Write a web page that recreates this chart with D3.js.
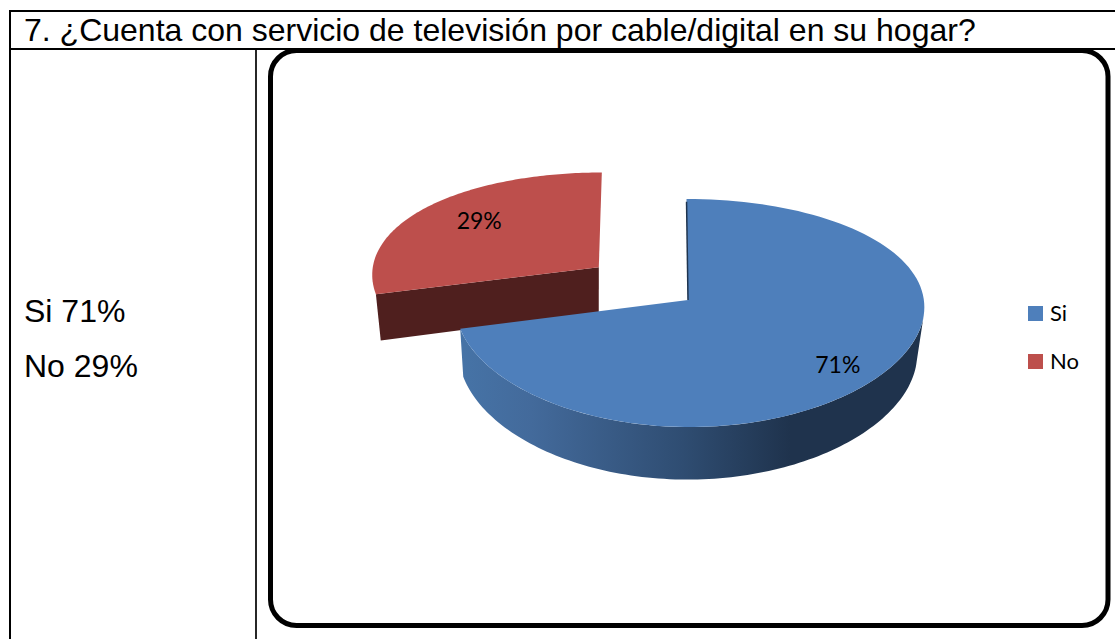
<!DOCTYPE html>
<html>
<head>
<meta charset="utf-8">
<script src="https://d3js.org/d3.v7.min.js"></script>
<style>
  html, body { margin: 0; padding: 0; background: #fff; }
  svg { display: block; }
</style>
</head>
<body>
<script>
const categories = ["Si", "No"];
const values = [71, 29];
const labels = ["71%", "29%"];
const summary = ["Si 71%", "No 29%"];
const title = "7. ¿Cuenta con servicio de televisión por cable/digital en su hogar?";

const width = 1115;
const height = 639;
const sansFont = "'Liberation Sans', Arial, sans-serif";
const chartFont = "Lato, sans-serif";

const svg = d3.select("body").append("svg")
  .attr("width", width)
  .attr("height", height);

const defs = svg.append("defs");
const sideGrad = defs.append("linearGradient")
  .attr("id", "blueSide")
  .attr("gradientUnits", "userSpaceOnUse")
  .attr("x1", 463).attr("x2", 790).attr("y1", 0).attr("y2", 0);
sideGrad.append("stop").attr("offset", 0).attr("stop-color", "#4673a6");
sideGrad.append("stop").attr("offset", 0.21).attr("stop-color", "#436a9b");
sideGrad.append("stop").attr("offset", 0.67).attr("stop-color", "#2f4d72");
sideGrad.append("stop").attr("offset", 1).attr("stop-color", "#1f334d");

// table lines, the right side of the table is cut off
const lines = svg.append("g").attr("stroke", "#000").attr("stroke-width", 2);
lines.append("line")
  .attr("x1", 9).attr("x2", width)
  .attr("y1", 11).attr("y2", 11);
lines.append("line")
  .attr("x1", 10).attr("x2", 10)
  .attr("y1", 10).attr("y2", height);
lines.append("line")
  .attr("x1", 10).attr("x2", width)
  .attr("y1", 49).attr("y2", 49);
lines.append("line")
  .attr("x1", 256).attr("x2", 256)
  .attr("y1", 49).attr("y2", height)
  .attr("stroke-width", 1.7);

svg.append("text")
  .attr("x", 24).attr("y", 41)
  .attr("font-family", sansFont)
  .attr("font-size", 32)
  .attr("fill", "#000")
  .text(title);

svg.selectAll("text.summary")
  .data(summary)
  .enter()
  .append("text")
  .attr("class", "summary")
  .attr("x", 24)
  .attr("y", (d, i) => 322 + i * 55)
  .attr("font-family", sansFont)
  .attr("font-size", 32)
  .attr("fill", "#000")
  .text(d => d);

// chart frame
svg.append("rect")
  .attr("x", 270.5).attr("y", 50.5)
  .attr("width", 837.5).attr("height", 575)
  .attr("rx", 26).attr("ry", 26)
  .attr("fill", "#fff")
  .attr("stroke", "#000")
  .attr("stroke-width", 5);

// pie in perspective
const cx = 688, cy = 300;
const R = 234, Rt = 112.6, persp = 0.114, depth = 46.5;

const color = d3.scaleOrdinal().domain(categories).range(["#4e7fbb", "#bd4f4c"]);
const sideColor = d3.scaleOrdinal().domain(categories).range(["url(#blueSide)", "#4f1f1e"]);

const pie = d3.pie().sort(null);
const arcs = pie(values);

// u to the right, v towards the viewer, z downwards through the disc
function project(u, v, z, warp) {
  const s = 1 / (1 - persp * v);
  const w = 1 + warp * u;
  return [
    cx + R * u * w * Math.sqrt(s) * (1 - 0.022 * z) - 2 * z + 1.5 * v,
    cy + Rt * v * s + depth * s * z
  ];
}

function ptAt(a, r, off, z, warp) {
  return project(off[0] + r * Math.sin(a), off[1] - r * Math.cos(a), z, warp);
}

function sampleArc(a0, a1, off, z, warp) {
  return d3.range(0, 121).map(i => ptAt(a0 + (a1 - a0) * i / 120, 1, off, z, warp));
}

const line = d3.line();
const explode = [0, 0.49];
const warps = [0.008, 0.01];
const labelR = [0.78, 0.66];
const labelShift = [[0, 7], [-5, -7]];
const rimStart = 97 * Math.PI / 180;   // widest point of the blue disc

function offsetOf(d, i) {
  const mid = (d.startAngle + d.endAngle) / 2;
  return [explode[i] * Math.sin(mid), -explode[i] * Math.cos(mid)];
}

// draw the exploded slice first, blue covers it
[1, 0].forEach(i => {
  const d = arcs[i];
  const off = offsetOf(d, i);
  const w = warps[i];
  const g = svg.append("g");
  if (i === 1) {
    const a = ptAt(d.startAngle, 0, off, 0, w);
    const b = ptAt(d.startAngle, 1, off, 0, w);
    const c = ptAt(d.startAngle, 1, off, 1, w);
    const e = ptAt(d.startAngle, 0, off, 1, w);
    g.append("path")
      .attr("d", line([a, b, c, e]) + "Z")
      .attr("fill", sideColor(categories[i]));
  } else {
    const top = sampleArc(rimStart, d.endAngle, off, 0, w);
    const low = sampleArc(rimStart, d.endAngle, off, 1, w).reverse();
    g.append("path")
      .attr("d", line(top.concat(low)) + "Z")
      .attr("fill", sideColor(categories[i]));
  }
  const apex = ptAt(d.startAngle, 0, off, 0, w);
  g.append("path")
    .attr("d", line([apex].concat(sampleArc(d.startAngle, d.endAngle, off, 0, w))) + "Z")
    .attr("fill", color(categories[i]));
  if (i === 0) {
    // thin inner wall along the cut at 12 o'clock
    g.append("path")
      .attr("d", line([ptAt(0, 0.97, off, 0, w), ptAt(0, 0, off, 0, w)]))
      .attr("stroke", "#1f344e")
      .attr("stroke-width", 1.5)
      .attr("fill", "none");
  }
});

// data labels
arcs.forEach((d, i) => {
  const mid = (d.startAngle + d.endAngle) / 2;
  const p = ptAt(mid, labelR[i], offsetOf(d, i), 0, warps[i]);
  svg.append("text")
    .attr("x", p[0] + labelShift[i][0]).attr("y", p[1] + labelShift[i][1])
    .attr("text-anchor", "middle")
    .attr("dominant-baseline", "central")
    .attr("font-family", chartFont)
    .attr("font-size", 23)
    .attr("fill", "#000")
    .text(labels[i]);
});

// legend
const legend = svg.selectAll("g.legend")
  .data(categories)
  .enter()
  .append("g")
  .attr("class", "legend")
  .attr("transform", (d, i) => `translate(1028, ${306 + i * 48})`);

legend.append("rect")
  .attr("width", 15).attr("height", 15)
  .attr("fill", d => color(d));

legend.append("text")
  .attr("x", 22).attr("y", 15)
  .attr("font-family", chartFont)
  .attr("font-size", 22)
  .attr("fill", "#000")
  .text(d => d);
</script>
</body>
</html>
